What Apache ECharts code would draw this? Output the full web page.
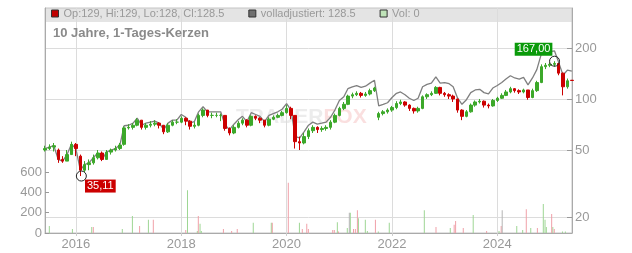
<!DOCTYPE html>
<html>
<head>
<meta charset="utf-8">
<script src="https://cdn.jsdelivr.net/npm/echarts@6/dist/echarts.min.js"></script>
<style>html,body{margin:0;padding:0;background:#fff}#c{width:632px;height:253px}</style>
</head>
<body>
<div id="c"></div>
<script>
// ---- monthly candles, June 2015 .. June 2025 ----
const startYear = 2015, startMonth = 6, monthCount = 121;
const openV  = [50,51,52,50,44,43,47,54,46,38, 41,42,45,48,44,48.6,50,51,54,67.5, 68,70,75,68,70,71,72,70,64,70, 73,73,77,74,69,70,80,86,80,80, 80,80,67,63,68,72,75,70,79,77, 75,70,76,78,80,83,88,80,56,55, 60,65,68,66,67,68,73,80,88,93, 104,106,108,105,107,112,78,82,84,86, 89,94,96,92,88,85,88,103,106,108, 117,108,106,104,100,86,79,84,92,96, 97,92,91,98,101,105,110,115,112,110, 113,102,112,125,155,158,160,162,142,118, 129];
const closeV = [51,52,53,44,43,47,54,51,38,41, 42,45,48,44,48.6,50,51,53.5,67.5,68, 70,75,68,70,71,72,70,64,70,73, 73,77,74,69,70,80,86,80,80,80, 80,67,63,68,72,75,70,79,77,75, 70,76,78,80,83,88,80,56,55,60, 65,68,66,67,68,73,80,88,93,104, 106,108,105,107,112,116,82,84,86,89, 94,96,92,88,85,88,103,106,108,117, 108,106,104,100,86,79,84,92,96,97, 92,91,98,101,105,110,115,112,110,113, 102,112,125,155,158,160,162,142,118,128, 128.5];
const highV  = [53,54,55,51,46,50,56,55,47,43, 44,47,50,49,50,51,53,55,69,71, 72,77,75,72,74,75,73,70,72,75, 76,79,78,75,73,82,88,86,83,83, 82,80,68,70,74,77,76,80,80,78, 75,78,80,82,85,92,90,80,60,63, 67,70,69,69,70,75,82,90,96,106, 109,111,110,110,115,118,84,86,88,91, 97,99,97,93,89,90,105,108,111,119, 118,110,108,106,100,87,86,94,98,100, 98,94,100,103,108,113,118,116,114,115, 113,115,128,160,163,164,167,163,143,132, 129];
const lowV   = [49,50,49,42,42,43,47,46,35.11,37, 38,41,44,43,44,47,49,50,53,66, 66,69,66,66,68,69,67,62,63,69, 71,72,70,66,67,69,78,78,77,78, 74,65,61,62,67,70,68,69,75,72, 68,69,75,77,79,82,76,51,50,54, 58,63,63,64,65,66,72,79,86,92, 101,104,102,103,105,110,75,80,82,84, 87,92,90,85,82,83,87,100,104,107, 105,103,100,96,83,75,78,83,90,94, 89,88,90,96,100,104,108,109,107,108, 99,101,110,124,150,154,155,138,105,115, 128];
const adjV   = [51,52,53,44,43,47,54,51,38,41, 42,45,48,44,48.6,50,51,53.5,69.5,70, 72,77,70,72,73,74,72,66,72,75, 75,81,78,72,73.5,84,90,84,84,84, 84,70,66,71,75.6,79,73.5,83,81,79, 73.5,80,82,84,87,94,86,60,59,64, 70,73,71,72,73,78,86,98,103,115, 118,120,117,119,124,129,91,93,95,102, 108,110,106,101,98,101,118,122,124,135, 124,125,123,118,101,93,99,109,113,114, 109,107,116,120,125,131,137,133,131,134, 121,133,149,184,188,190,192,165,138,148, 146];

// ---- volume spikes ----
const volUpDates = ['2015-07-01','2015-12-08','2016-04-20','2016-11-18','2017-01-27','2017-05-18','2018-02-13','2018-04-22','2018-05-11','2018-05-20','2019-05-15','2019-09-17','2020-03-30','2020-12-18','2021-02-25','2021-03-18','2021-05-13','2021-06-30','2021-07-14','2021-09-28','2021-12-13','2022-08-13','2023-02-09','2023-07-18','2024-01-13','2024-05-15','2024-06-25','2024-08-20','2024-11-15','2024-11-27','2024-12-06','2025-01-20','2025-03-28','2025-04-17'];
const volUpValues = [69,40,60,40,167,130,420,20,90,20,100,100,100,107,50,200,145,130,20,15,100,225,50,177,20,69,30,50,285,130,60,60,15,15];
const volDownDates = ['2016-05-01','2017-03-18','2017-06-21','2018-02-01','2018-04-29','2018-10-20','2018-12-16','2019-01-24','2019-09-24','2020-01-13','2020-04-19','2020-05-20','2020-05-31','2020-11-16','2020-11-27','2020-12-26','2021-04-09','2021-04-22','2021-05-06','2021-09-08','2022-11-02','2023-03-08','2023-03-18','2023-05-10','2023-10-19','2024-01-28','2024-07-20','2024-10-05','2025-01-12','2025-01-30'];
const volDownValues = [60,69,130,30,167,40,20,40,100,495,40,90,40,30,30,15,40,40,225,130,60,80,118,50,20,69,235,50,187,40];
const volFlatDates = ['2021-03-11','2024-02-04'];
const volFlatValues = [200,225];

// ---- axes / labels ----
const yearTicks = ['2016-01-01','2018-01-01','2020-01-01','2022-01-01','2024-01-01'];
const priceTicks = [20,50,100,200];
const volTicks = [0,200,400,600];
const priceMin = 16.2, priceMax = 344, volMax = 2215;
const xMin = '2015-06-01', xMax = '2025-06-02';
const highDate = '2025-02-01', highValue = 167.00;
const lowDate = '2016-02-08', lowValue = 35.11;
const legendNames = ['Op:129, Hi:129, Lo:128, Cl:128.5', 'volladjustiert: 128.5', 'Vol: 0'];
const titleText = '10 Jahre, 1-Tages-Kerzen';

const L = Math.log10;
const ts = d => +new Date(d + 'T00:00:00Z');
const months = [];
for (let i = 0; i < monthCount; i++) {
  const m0 = startMonth - 1 + i;
  const y = startYear + Math.floor(m0 / 12), m = (m0 % 12) + 1;
  months.push(y + '-' + String(m).padStart(2, '0') + '-01');
}
const candleData = months.map((d, i) => [ts(d), L(openV[i]), L(closeV[i]), L(lowV[i]), L(highV[i])]);
const adjData = months.map((d, i) => [ts(d), L(adjV[i])]);
const pair = (ds, vs) => ds.map((d, i) => [ts(d), vs[i]]);
const fmt = v => v.toFixed(2).replace('.', ',');

const FONT = '"Liberation Sans", Arial, sans-serif';
const chart = echarts.init(document.getElementById('c'), null, {renderer: 'canvas'});
chart.setOption({
  animation: false,
  backgroundColor: '#fff',
  textStyle: {fontFamily: FONT},
  grid: {left: 45, right: 60, top: 8, bottom: 20, show: true, borderColor: '#c4c4c4', borderWidth: 1, backgroundColor: 'transparent'},
  title: {text: titleText, left: 53, top: 27, padding: 0, textStyle: {fontFamily: FONT, fontSize: 13, fontWeight: 'bold', color: '#8a8a8a'}},
  legend: {
    left: 51, top: 8, padding: 0, itemWidth: 7, itemHeight: 7, itemGap: 24, selectedMode: false,
    textStyle: {fontFamily: FONT, fontSize: 11, color: '#999'},
    data: [
      {name: legendNames[0], icon: 'rect', itemStyle: {color: '#c00000', borderColor: '#333', borderWidth: 1}},
      {name: legendNames[1], icon: 'rect', itemStyle: {color: '#707070', borderColor: '#333', borderWidth: 1}},
      {name: legendNames[2], icon: 'rect', itemStyle: {color: '#bfe3b8', borderColor: '#333', borderWidth: 1}}
    ]
  },
  graphic: [
    {type: 'rect', z: -10, shape: {x: 45, y: 8, width: 527, height: 14}, style: {fill: '#e4e4e4'}, silent: true},
    {type: 'text', z: -5, left: 236, top: 107, silent: true,
      style: {text: '{a|TRADER}{b|FOX}', rich: {
        a: {fontSize: 21, fontWeight: 'bold', fontFamily: FONT, fill: 'rgba(200,200,200,0.35)'},
        b: {fontSize: 21, fontWeight: 'bold', fontFamily: FONT, fill: 'rgba(240,150,150,0.3)'}}}}
  ],
  xAxis: {
    type: 'value', min: ts(xMin), max: ts(xMax),
    axisLine: {show: true, lineStyle: {color: '#aaa'}},
    axisTick: {show: true, length: 3, customValues: yearTicks.map(ts), lineStyle: {color: '#ccc'}},
    axisLabel: {customValues: yearTicks.map(ts), formatter: v => String(new Date(v).getUTCFullYear()), color: '#999', fontSize: 13, margin: 5, fontFamily: FONT},
    splitLine: {show: true, lineStyle: {color: '#dcdcdc', width: 1}}
  },
  yAxis: [
    {
      type: 'value', position: 'right', min: L(priceMin), max: L(priceMax),
      axisLine: {show: true, lineStyle: {color: '#aaa'}},
      axisTick: {show: true, inside: true, length: 5, customValues: priceTicks.map(L), lineStyle: {color: '#999'}},
      axisLabel: {customValues: priceTicks.map(L), formatter: v => String(Math.round(Math.pow(10, v))), color: '#999', fontSize: 13, margin: 3, fontFamily: FONT},
      splitLine: {show: true, lineStyle: {color: '#dcdcdc', width: 1}}
    },
    {
      type: 'value', position: 'left', min: 0, max: volMax,
      axisLine: {show: true, lineStyle: {color: '#aaa'}},
      axisTick: {show: true, inside: true, length: 4, customValues: volTicks, lineStyle: {color: '#999'}},
      axisLabel: {customValues: volTicks, color: '#999', fontSize: 13, margin: 3, fontFamily: FONT},
      splitLine: {show: false}
    }
  ],
  series: [
    {name: legendNames[2], type: 'bar', yAxisIndex: 1, barWidth: 1, data: pair(volUpDates, volUpValues), itemStyle: {color: '#9ed694'}, z: 1, silent: true},
    {name: 'VolDown', type: 'bar', yAxisIndex: 1, barWidth: 1, barGap: '-100%', data: pair(volDownDates, volDownValues), itemStyle: {color: '#f0a0a8'}, z: 1, silent: true},
    {name: 'VolFlat', type: 'bar', yAxisIndex: 1, barWidth: 1, barGap: '-100%', data: pair(volFlatDates, volFlatValues), itemStyle: {color: '#b4b4b4'}, z: 1, silent: true},
    {name: legendNames[1], type: 'line', yAxisIndex: 0, data: adjData, showSymbol: false, symbol: 'none', lineStyle: {color: '#7f7f7f', width: 1.3}, itemStyle: {color: '#7f7f7f'}, z: 2},
    {name: legendNames[0], type: 'candlestick', yAxisIndex: 0, data: candleData, barWidth: 3, z: 3,
      itemStyle: {color: '#3ca82a', color0: '#cc0000', borderColor: '#3ca82a', borderColor0: '#cc0000', borderWidth: 1},
      markPoint: {
        symbol: 'circle', symbolSize: 10,
        itemStyle: {color: 'rgba(0,0,0,0)', borderColor: '#222', borderWidth: 1},
        data: [
          {coord: [ts(highDate), L(highValue)], label: {show: true, formatter: fmt(highValue), position: 'inside', offset: [-21, -12], backgroundColor: '#0a9a0a', color: '#fff', fontSize: 11, padding: [1, 2], fontFamily: FONT}},
          {coord: [ts(lowDate), L(lowValue)], label: {show: true, formatter: fmt(lowValue), position: 'inside', offset: [19, 10], backgroundColor: '#cc0000', color: '#fff', fontSize: 11, padding: [1, 2], fontFamily: FONT}}
        ]
      }
    }
  ]
});
</script>
</body>
</html>
